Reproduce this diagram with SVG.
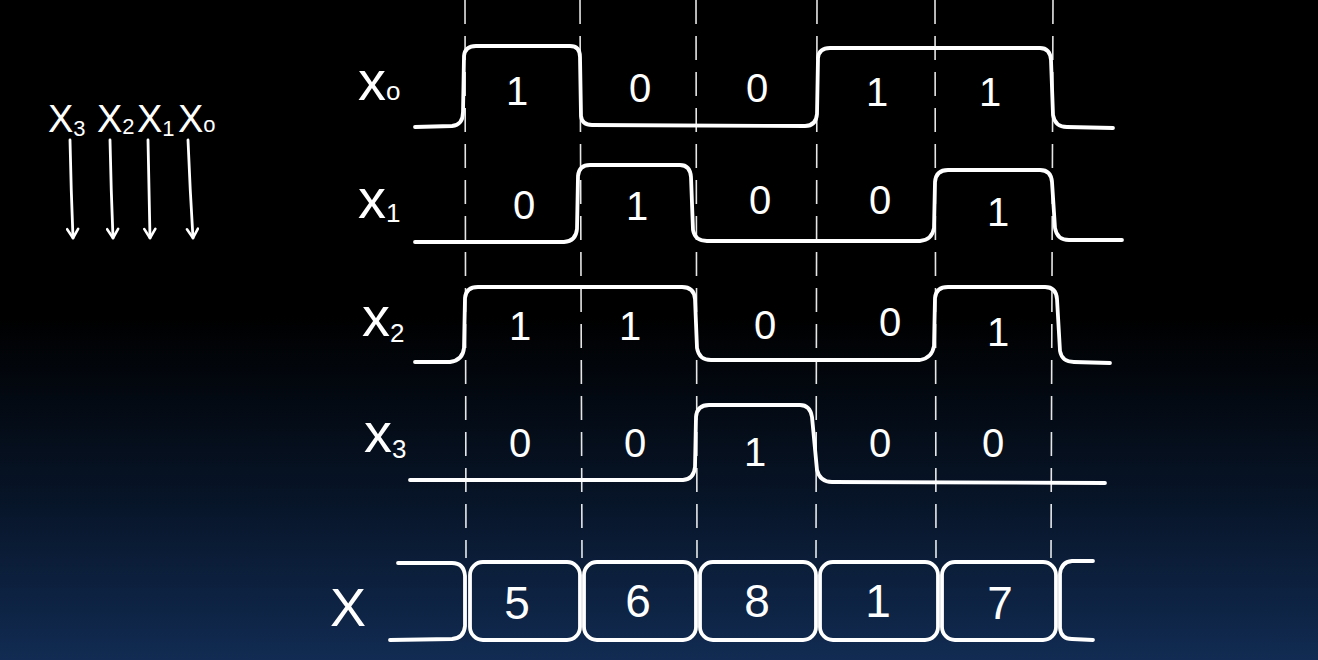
<svg xmlns="http://www.w3.org/2000/svg" width="1318" height="660" viewBox="0 0 1318 660">
<defs>
<linearGradient id="bg" x1="0" y1="0" x2="0" y2="1">
<stop offset="0" stop-color="#000000"/>
<stop offset="0.48" stop-color="#000000"/>
<stop offset="0.75" stop-color="#071427"/>
<stop offset="1" stop-color="#112b52"/>
</linearGradient>
<marker id="ah" viewBox="0 0 14 14" refX="12" refY="7" markerWidth="14" markerHeight="14" markerUnits="userSpaceOnUse" orient="auto">
<path d="M3 1.5 L12 7 L3 12.5" fill="none" stroke="#fff" stroke-width="2.6" stroke-linecap="round" stroke-linejoin="round"/>
</marker>
<style>
.sig{fill:none;stroke:#fff;stroke-width:3.8;stroke-linecap:round;stroke-linejoin:round}
.dash{fill:none;stroke:#fff;stroke-width:1.6;stroke-dasharray:24 12;opacity:0.9}
.arr{fill:none;stroke:#fff;stroke-width:2.8;stroke-linecap:round}
.lbl{font-family:"Liberation Sans",Arial,sans-serif;fill:#fff;font-size:56px}
.sub{font-size:26px}
.val{font-family:"Liberation Sans",Arial,sans-serif;fill:#fff;font-size:40px;text-anchor:middle}
.bval{font-family:"Liberation Sans",Arial,sans-serif;fill:#fff;font-size:46px;text-anchor:middle}
.top{font-family:"Liberation Sans",Arial,sans-serif;fill:#fff;font-size:38px}
.tsub{font-size:22px}
</style>
</defs>
<rect width="1318" height="660" fill="url(#bg)"/>

<g id="connectors">
<line class="dash" x1="465" y1="0" x2="466" y2="558"/>
<line class="dash" x1="580" y1="0" x2="582" y2="558"/>
<line class="dash" x1="696" y1="0" x2="697" y2="558"/>
<line class="dash" x1="817" y1="0" x2="816" y2="558"/>
<line class="dash" x1="935" y1="0" x2="936" y2="558"/>
<line class="dash" x1="1053" y1="0" x2="1051" y2="558"/>
<path class="arr" d="M70 140 Q71 190 73 238" marker-end="url(#ah)"/>
<path class="arr" d="M110 140 Q111 190 113 238" marker-end="url(#ah)"/>
<path class="arr" d="M148 140 Q149 190 150 238" marker-end="url(#ah)"/>
<path class="arr" d="M188 140 Q190 190 193 238" marker-end="url(#ah)"/>
</g>

<g id="legend">
<text class="top" x="48" y="132">X<tspan class="tsub" dy="4">3</tspan></text>
<text class="top" x="97" y="132">X<tspan class="tsub" dy="2">2</tspan></text>
<text class="top" x="137" y="132">X<tspan class="tsub" dy="4">1</tspan></text>
<text class="top" x="178" y="132">X<tspan class="tsub" dy="0">o</tspan></text>
</g>

<g id="x0">
<text class="lbl" x="358" y="100">x<tspan class="sub" dy="0">o</tspan></text>
<path class="sig" d="M415 127 L452 126 Q463 125 463 112 L464 56 Q465 46 476 46 L570 46 Q580 46 580 57 L581 116 Q582 125 592 125 L805 126 Q816 126 817 114 L818 58 Q819 48 830 48 L1040 48 Q1050 48 1051 60 L1053 115 Q1055 127 1067 127 L1113 128"/>
<text class="val" x="517" y="105">1</text>
<text class="val" x="640" y="102">0</text>
<text class="val" x="757" y="102">0</text>
<text class="val" x="877" y="106">1</text>
<text class="val" x="990" y="106">1</text>
</g>

<g id="x1">
<text class="lbl" x="358" y="218">x<tspan class="sub" dy="4">1</tspan></text>
<path class="sig" d="M415 242 L564 242 Q576 241 577 229 L578 176 Q579 165 590 165 L680 165 Q690 165 691 177 L693 230 Q695 241 707 241 L920 241 Q932 240 934 228 L935 182 Q936 170 948 170 L1040 170 Q1051 170 1052 182 L1055 228 Q1057 240 1069 240 L1122 240"/>
<text class="val" x="524" y="219">0</text>
<text class="val" x="637" y="220">1</text>
<text class="val" x="760" y="214">0</text>
<text class="val" x="880" y="214">0</text>
<text class="val" x="998" y="226">1</text>
</g>

<g id="x2">
<text class="lbl" x="362" y="336">x<tspan class="sub" dy="6">2</tspan></text>
<path class="sig" d="M415 362 L450 362 Q463 360 464 348 L465 298 Q466 287 478 287 L682 287 Q694 287 695 299 L697 348 Q699 360 711 360 L920 360 Q932 358 934 346 L935 298 Q936 287 948 287 L1045 287 Q1056 287 1057 299 L1060 351 Q1062 362 1074 362 L1110 363"/>
<text class="val" x="520" y="340">1</text>
<text class="val" x="630" y="340">1</text>
<text class="val" x="765" y="339">0</text>
<text class="val" x="890" y="336">0</text>
<text class="val" x="998" y="346">1</text>
</g>

<g id="x3">
<text class="lbl" x="364" y="452">x<tspan class="sub" dy="6">3</tspan></text>
<path class="sig" d="M410 480 L683 480 Q694 479 695 467 L696 417 Q697 405 709 405 L800 405 Q810 405 812 417 L817 470 Q820 482 832 482 L1105 483"/>
<text class="val" x="520" y="457">0</text>
<text class="val" x="635" y="457">0</text>
<text class="val" x="755" y="466">1</text>
<text class="val" x="880" y="457">0</text>
<text class="val" x="993" y="457">0</text>
</g>

<g id="X">
<text class="lbl" x="330" y="626" style="font-size:54px">X</text>
<path class="sig" d="M398 563 L452 563 Q464 563 465 576 L465 626 Q464 638 452 639 L390 640"/>
<rect class="sig" x="470" y="562" width="110" height="78" rx="13"/>
<rect class="sig" x="584" y="562" width="112" height="78" rx="13"/>
<rect class="sig" x="700" y="562" width="116" height="78" rx="13"/>
<rect class="sig" x="820" y="562" width="118" height="78" rx="13"/>
<rect class="sig" x="942" y="562" width="114" height="78" rx="13"/>
<path class="sig" d="M1093 561 L1072 561 Q1061 562 1060 574 L1060 628 Q1061 639 1072 639 L1093 640"/>
<text class="bval" x="517" y="619">5</text>
<text class="bval" x="638" y="617">6</text>
<text class="bval" x="757" y="617">8</text>
<text class="bval" x="878" y="617">1</text>
<text class="bval" x="1000" y="619">7</text>
</g>
</svg>
